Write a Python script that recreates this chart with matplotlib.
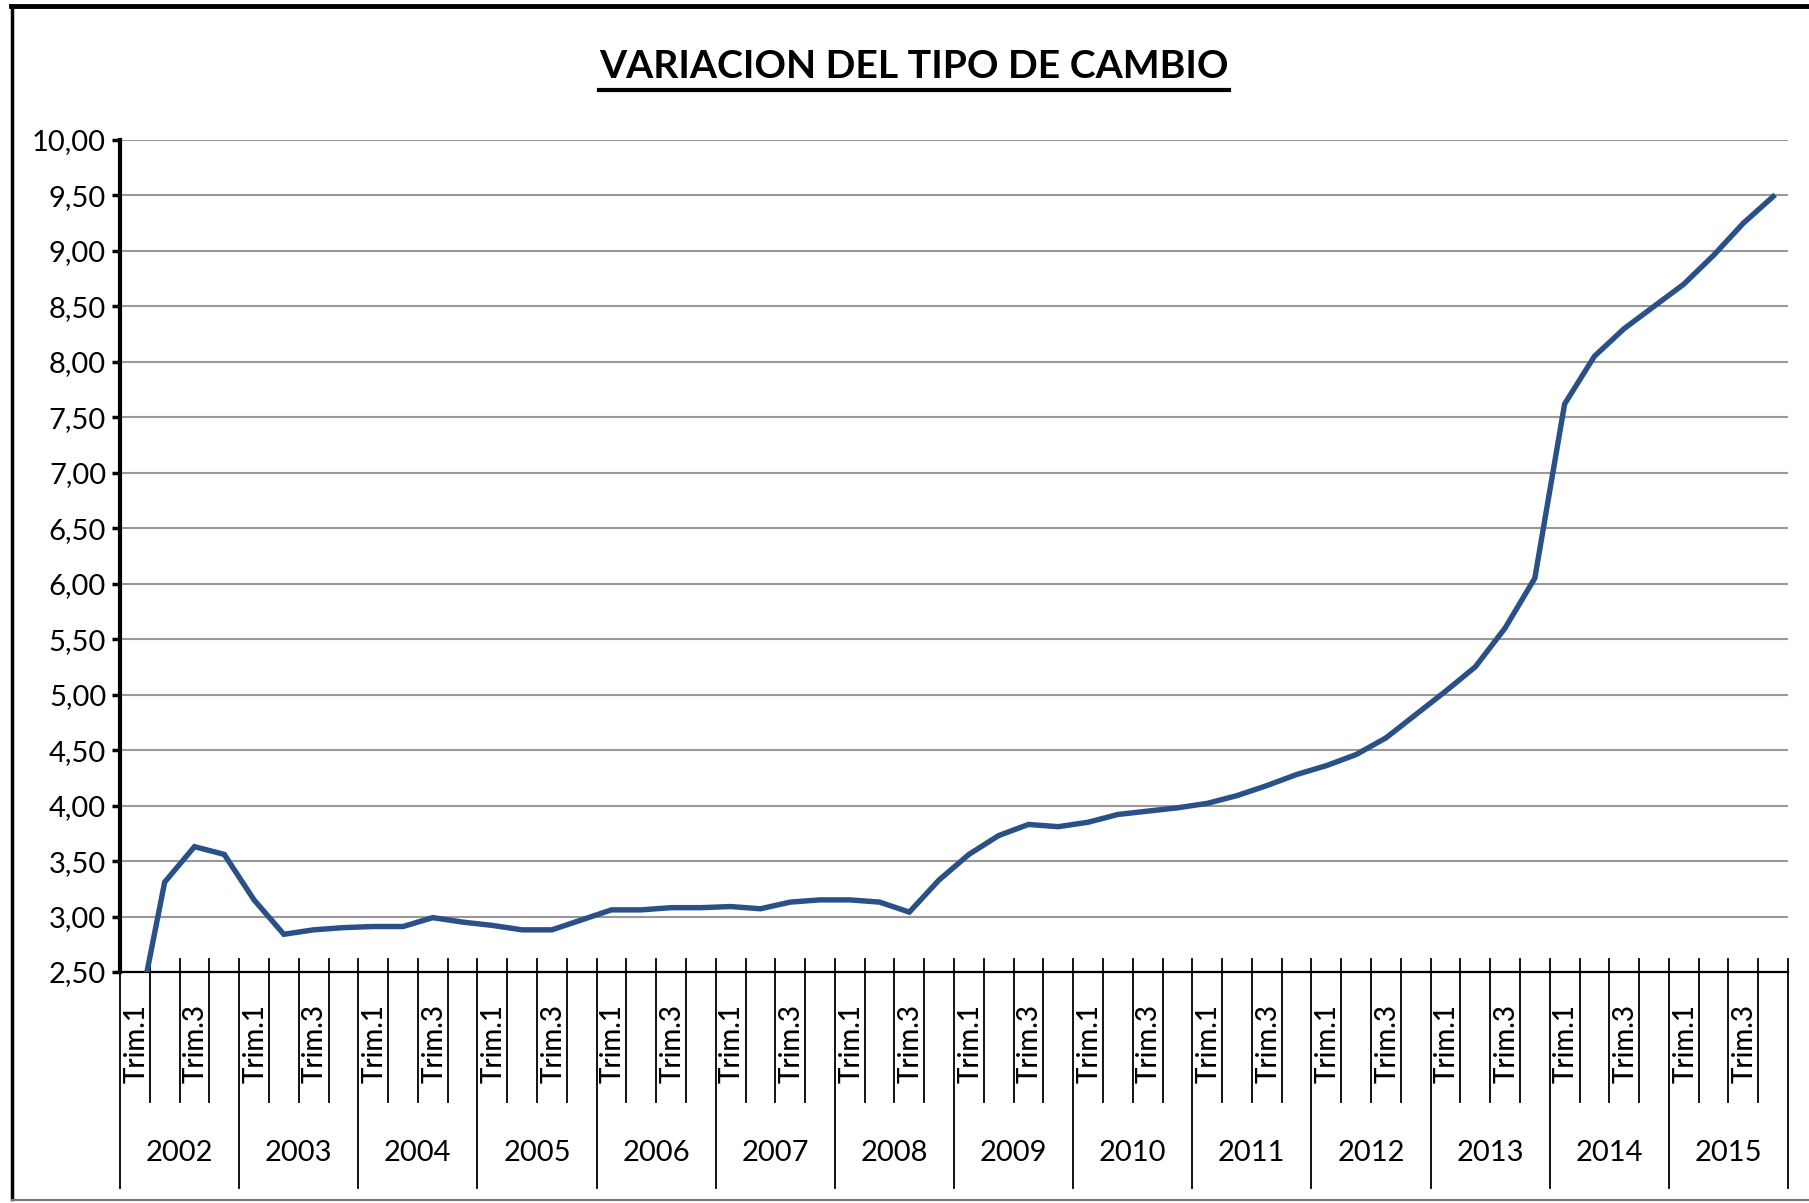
import matplotlib
matplotlib.use('Agg')
import matplotlib.pyplot as plt
import matplotlib.transforms as mtransforms
from matplotlib.lines import Line2D
import numpy as np

plt.rcParams['font.family'] = ['Lato', 'DejaVu Sans']

# Data: quarterly exchange rate 2002-2015
years = [str(y) for y in range(2002, 2016)]
quarters = ['Trim.1', 'Trim.2', 'Trim.3', 'Trim.4']
tipo_cambio = [
    1.95, 3.31, 3.63, 3.56,   # 2002
    3.15, 2.84, 2.88, 2.90,   # 2003
    2.91, 2.91, 2.99, 2.95,   # 2004
    2.92, 2.88, 2.88, 2.97,   # 2005
    3.06, 3.06, 3.08, 3.08,   # 2006
    3.09, 3.07, 3.13, 3.15,   # 2007
    3.15, 3.13, 3.04, 3.33,   # 2008
    3.56, 3.73, 3.83, 3.81,   # 2009
    3.85, 3.92, 3.95, 3.98,   # 2010
    4.02, 4.09, 4.18, 4.28,   # 2011
    4.36, 4.46, 4.61, 4.82,   # 2012
    5.03, 5.25, 5.60, 6.05,   # 2013
    7.62, 8.05, 8.30, 8.50,   # 2014
    8.70, 8.96, 9.25, 9.49,   # 2015
]
y_ticks = [2.5 + 0.5 * k for k in range(16)]

W, H = 1809, 1203
fig = plt.figure(figsize=(W / 100, H / 100), dpi=100)
ax = fig.add_axes([120 / W, 1 - 972 / H, (1788 - 120) / W, (972 - 140) / H])

x = np.arange(len(tipo_cambio))
ax.plot(x, tipo_cambio, color='#2A5088', lw=3.9, solid_joinstyle='miter', zorder=3)

ax.set_xlim(-0.5, len(tipo_cambio) - 0.5)
ax.set_ylim(2.5, 10.0)
ax.set_yticks(y_ticks)
ax.set_yticklabels([f'{v:.2f}'.replace('.', ',') for v in y_ticks], fontsize=21)
ax.yaxis.grid(True, color='#999999', lw=1.5)
ax.set_axisbelow(True)
ax.tick_params(axis='y', direction='out', length=6, width=2.5, pad=4)
ax.set_xticks([])

for side in ['top', 'right']:
    ax.spines[side].set_visible(False)
ax.spines['left'].set_linewidth(3)
ax.spines['bottom'].set_linewidth(1.6)

# category axis: separators, quarter labels, year labels
trans = mtransforms.blended_transform_factory(ax.transData, ax.transAxes)
ax_h = 972 - 140
top_tick = 13 / ax_h
q_end = -(1102 - 972) / ax_h
y_end = -(1188 - 972) / ax_h
for k in range(len(tipo_cambio) + 1):
    bottom = y_end if k % 4 == 0 else q_end
    ax.add_line(Line2D([k - 0.5, k - 0.5], [top_tick, bottom], transform=trans,
                       color='black', lw=1.3, clip_on=False))

for i in range(len(tipo_cambio)):
    q = quarters[i % 4]
    if i % 2 == 0:
        ax.text(i + 0.05, -(1004 - 972) / ax_h, q, transform=trans, rotation=90,
                ha='center', va='top', fontsize=20, fontweight='medium')

for j, yr in enumerate(years):
    ax.text(4 * j + 1.5, -(1153 - 972) / ax_h, yr, transform=trans,
            ha='center', va='center', fontsize=21)

# title with underline
title = fig.text(914 / W, 1 - 67 / H, 'VARIACION DEL TIPO DE CAMBIO',
                 ha='center', va='center', fontsize=34, fontweight='bold')
fig.canvas.draw()
bb = title.get_window_extent()
title.set_fontsize(34 * 630 / bb.width)
fig.canvas.draw()
bb = title.get_window_extent()
fig.add_artist(Line2D([bb.x0 / W, bb.x1 / W], [1 - 90 / H, 1 - 90 / H],
                      transform=fig.transFigure, color='black', lw=3))

# chart frame
fig.add_artist(Line2D([11 / W, 1], [1 - 6 / H, 1 - 6 / H], transform=fig.transFigure,
                      color='black', lw=3.5))
fig.add_artist(Line2D([12 / W, 12 / W], [1 - 6 / H, 1 - 1199 / H], transform=fig.transFigure,
                      color='black', lw=2.5))
fig.add_artist(Line2D([12 / W, 1], [1 - 1200 / H, 1 - 1200 / H], transform=fig.transFigure,
                      color='#777777', lw=1.5))

fig.savefig('out.png', dpi=100)
